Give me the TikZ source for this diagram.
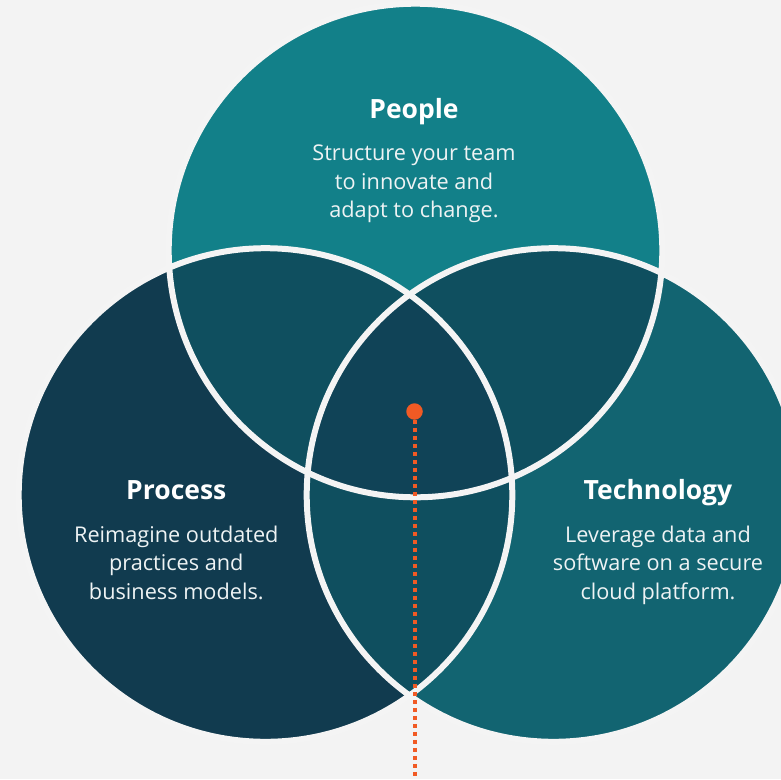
\documentclass[tikz,border=0pt]{standalone}
\usepackage{fontspec}
\setmainfont{Open Sans}
\definecolor{bgcol}{HTML}{F3F3F3}
\definecolor{ringcol}{HTML}{F4F4F4}
\definecolor{colT}{HTML}{128089}
\definecolor{colL}{HTML}{113B4F}
\definecolor{colR}{HTML}{126471}
\definecolor{colTL}{HTML}{0F4F5F}
\definecolor{colTR}{HTML}{0F4F5F}
\definecolor{colLR}{HTML}{0F4F5F}
\definecolor{colC}{HTML}{104357}
\definecolor{dotorange}{HTML}{F15A24}
\definecolor{bodywhite}{HTML}{EEF3F4}
\begin{document}
\begin{tikzpicture}[x=1pt,y=-1pt,
  titletext/.style={text=white,font=\bfseries\fontsize{26.5}{30}\selectfont,anchor=base,inner sep=0pt},
  bodytext/.style={text=bodywhite,font=\fontsize{21.7}{26}\selectfont,anchor=base,inner sep=0pt},
  ring/.style={draw=ringcol,line width=6pt},
  orangedot/.style={circle,fill=dotorange,minimum size=16.5pt,inner sep=0pt},
  dotline/.style={draw=dotorange,line width=4pt,dash pattern=on 3.8pt off 4.2pt}]
\fill[bgcol] (0,0) rectangle (781,779);
\useasboundingbox (0,0) rectangle (781,779);
\coordinate (cT) at (415.5,250.5);
\coordinate (cL) at (265.5,495);
\coordinate (cR) at (553.5,495);
\begin{scope}
  \clip (0,0) rectangle (781,779);
  \fill[colL] (cL) circle (246.8pt);
  \fill[colR] (cR) circle (246.8pt);
  \fill[colT] (cT) circle (246.8pt);
  \begin{scope}
    \clip (cT) circle (246.8pt);
    \fill[colTL] (cL) circle (246.8pt);
  \end{scope}
  \begin{scope}
    \clip (cT) circle (246.8pt);
    \fill[colTR] (cR) circle (246.8pt);
  \end{scope}
  \begin{scope}
    \clip (cL) circle (246.8pt);
    \fill[colLR] (cR) circle (246.8pt);
  \end{scope}
  \begin{scope}
    \clip (cT) circle (246.8pt);
    \clip (cL) circle (246.8pt);
    \fill[colC] (cR) circle (246.8pt);
  \end{scope}
  \draw[ring] (cT) circle (246.8pt);
  \draw[ring] (cL) circle (246.8pt);
  \draw[ring] (cR) circle (246.8pt);
\end{scope}
% People
\node[titletext] (peopleT) at (414,118.3) {People};
\node[bodytext] (people1) at (414,160.7) {Structure your team};
\node[bodytext] (people2) at (414,189) {to innovate and};
\node[bodytext] (people3) at (414,217.3) {adapt to change.};
% Process
\node[titletext] (processT) at (176.3,499.5) {Process};
\node[bodytext] (process1) at (176.3,542) {Reimagine outdated};
\node[bodytext] (process2) at (176.3,570.7) {practices and};
\node[bodytext] (process3) at (176.3,599.5) {business models.};
% Technology
\node[titletext] (techT) at (658,499.5) {Technology};
\node[bodytext] (tech1) at (658,542) {Leverage data and};
\node[bodytext] (tech2) at (658,570.7) {software on a secure};
\node[bodytext] (tech3) at (658,599.5) {cloud platform.};
% dot and dotted line
\node[orangedot] (dot) at (414.5,411.5) {};
\coordinate (lineend) at (414.5,779);
\draw[dotline] (dot.south) -- (lineend);
\end{tikzpicture}
\end{document}
